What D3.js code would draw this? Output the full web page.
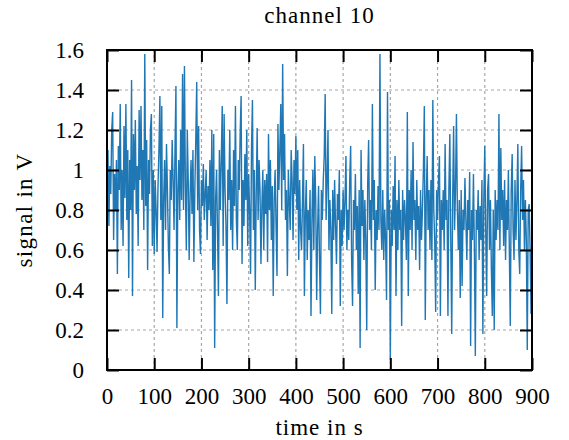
<!DOCTYPE html>
<html>
<head>
<meta charset="utf-8">
<script src="https://cdn.jsdelivr.net/npm/d3@7"></script>
<style>
	body { margin: 0; background: #fff; }
	svg text { font-family: "Liberation Serif", "Times New Roman", "DejaVu Serif", serif; fill: #000; }
</style>
</head>
<body>
<div id="chart"></div>
<script>
// signal samples, spaced evenly from 0 to 900 s
const signal = [
	0.85, 1.1, 0.72, 1.02, 0.88, 1.2, 1.29, 0.65, 0.98, 0.8,
	1.05, 0.48, 1.12, 0.9, 1.33, 0.7, 1.0, 0.62, 1.22, 0.86,
	1.33, 0.75, 1.1, 0.46, 1.05, 0.8, 1.45, 0.37, 1.18, 0.9,
	1.25, 0.78, 1.02, 0.62, 1.3, 0.95, 1.32, 0.85, 1.1, 0.7,
	1.58, 0.82, 1.15, 0.5, 1.05, 0.88, 1.2, 1.28, 0.62, 1.0,
	0.58, 0.95, 0.8, 0.59, 0.92, 1.1, 1.37, 0.75, 1.32, 0.26,
	0.85, 1.05, 0.7, 1.13, 0.9, 0.62, 0.48, 1.0, 0.85, 1.15,
	0.95, 0.7, 1.1, 1.42, 0.21, 0.9, 1.05, 0.75, 1.2, 0.85,
	1.48, 0.8, 1.52, 0.92, 0.6, 1.2, 0.95, 0.55, 0.88, 1.05,
	0.78, 1.1, 0.54, 0.9, 1.15, 1.44, 0.8, 1.22, 0.7, 0.58,
	0.95, 0.82, 1.03, 0.75, 0.88, 1.0, 0.65, 0.92, 0.8, 1.05,
	0.72, 1.2, 0.5, 1.18, 0.11, 0.85, 1.0, 0.7, 0.37, 1.1,
	0.8, 1.05, 1.32, 0.62, 1.28, 0.9, 0.72, 0.33, 1.0, 0.85,
	1.2, 0.7, 0.95, 0.6, 1.1, 0.82, 1.32, 0.75, 0.6, 1.05,
	0.9, 1.18, 1.37, 0.53, 0.95, 0.72, 1.08, 0.85, 1.2, 0.62,
	0.98, 0.8, 0.48, 1.1, 1.35, 0.7, 1.0, 0.4, 0.88, 1.21,
	0.75, 1.05, 0.9, 0.53, 0.82, 1.0, 0.6, 0.95, 0.78, 0.98,
	0.54, 1.18, 0.8, 1.05, 0.65, 0.92, 0.37, 0.85, 1.0, 0.72,
	0.47, 1.23, 0.9, 1.1, 1.33, 0.8, 1.53, 0.95, 1.18, 0.75,
	0.9, 0.47, 1.0, 0.85, 0.7, 1.1, 0.95, 0.65, 1.05, 0.88,
	1.17, 0.8, 1.1, 0.55, 0.95, 0.7, 0.6, 0.85, 1.13, 0.37,
	0.78, 0.95, 0.55, 0.8, 0.65, 0.9, 0.27, 0.75, 1.0, 0.6,
	1.07, 0.85, 0.35, 0.7, 0.92, 0.55, 0.28, 0.9, 0.75, 0.95,
	1.07, 1.38, 0.75, 0.95, 1.2, 0.6, 0.85, 0.7, 0.28, 0.9,
	0.65, 0.95, 0.72, 0.53, 0.88, 0.75, 1.0, 0.32, 0.8, 0.62,
	0.9, 0.7, 0.85, 1.07, 0.6, 0.8, 0.65, 0.95, 1.12, 0.55,
	0.32, 0.85, 0.7, 0.98, 0.6, 0.82, 0.38, 0.9, 0.11, 1.1,
	0.72, 0.9, 0.55, 0.85, 0.65, 0.2, 0.92, 1.15, 0.7, 0.85,
	0.6, 1.33, 0.75, 0.95, 0.4, 0.8, 0.65, 0.92, 0.7, 1.58,
	0.75, 0.6, 0.9, 0.55, 0.8, 0.65, 0.35, 1.39, 0.7, 0.85,
	0.05, 0.8, 0.62, 0.92, 0.7, 1.07, 0.37, 0.85, 0.6, 0.95,
	0.7, 0.8, 0.22, 0.9, 0.65, 0.85, 0.75, 0.55, 1.29, 0.37,
	0.9, 0.7, 1.0, 0.6, 1.14, 0.75, 0.85, 0.55, 0.95, 0.7,
	0.82, 0.5, 0.9, 0.65, 0.8, 1.0, 1.32, 0.25, 0.85, 1.07,
	0.7, 0.9, 0.6, 0.95, 0.55, 1.35, 0.8, 0.65, 0.29, 0.9,
	0.75, 0.95, 1.07, 0.27, 0.85, 0.7, 0.9, 0.6, 1.13, 0.75,
	0.85, 0.27, 0.9, 1.18, 0.65, 0.18, 0.85, 1.22, 0.7, 0.9,
	1.28, 0.8, 0.6, 0.85, 0.36, 0.9, 0.42, 0.8, 0.7, 0.96,
	0.75, 0.55, 0.85, 0.7, 0.99, 0.12, 0.8, 0.65, 0.98, 0.6,
	0.07, 0.8, 0.7, 0.9, 0.55, 0.82, 0.65, 0.95, 0.18, 0.85,
	1.12, 0.7, 0.37, 0.9, 0.98, 0.6, 0.85, 0.5, 0.27, 0.8,
	0.2, 0.9, 0.65, 0.85, 0.7, 1.28, 0.6, 1.11, 0.75, 0.9,
	0.62, 0.95, 0.55, 0.85, 0.7, 1.0, 0.6, 0.22, 0.9, 1.08,
	0.7, 0.55, 0.95, 0.65, 0.85, 1.13, 0.6, 0.48, 0.9, 1.12,
	0.75, 0.95, 0.6, 0.85, 0.65, 0.1, 0.8, 0.83, 0.6, 0.28,
	0.8
]
const tEnd = 900
const xTicks = [0, 100, 200, 300, 400, 500, 600, 700, 800, 900]
const yTicks = [0, 0.2, 0.4, 0.6, 0.8, 1, 1.2, 1.4, 1.6]
const title = 'channel 10'
const xLabel = 'time in s'
const yLabel = 'signal in V'

const width = 569
const height = 440
const margin = { top: 50, right: 37, bottom: 70, left: 107 }
const tickLen = 12
const serif = '"Liberation Serif", "Times New Roman", "DejaVu Serif", serif'

const svg = d3.select('#chart')
	.append('svg')
	.attr('width', width)
	.attr('height', height)

const x = d3.scaleLinear()
	.domain([0, tEnd])
	.range([margin.left, width - margin.right])

const y = d3.scaleLinear()
	.domain([0, 1.6])
	.range([height - margin.bottom, margin.top])

const step = tEnd / (signal.length - 1)
const points = signal.map((v, i) => [i * step, v])

// dashed grid
const grid = svg.append('g').attr('class', 'grid')
grid.selectAll('line.gx')
	.data(xTicks.slice(1, -1))
	.join('line')
	.attr('class', 'gx')
	.attr('x1', d => x(d)).attr('x2', d => x(d))
	.attr('y1', y(0)).attr('y2', y(1.6))
grid.selectAll('line.gy')
	.data(yTicks.slice(1, -1))
	.join('line')
	.attr('class', 'gy')
	.attr('x1', x(0)).attr('x2', x(tEnd))
	.attr('y1', d => y(d)).attr('y2', d => y(d))
grid.selectAll('line')
	.attr('stroke', '#a8a8a8')
	.attr('stroke-width', 1.2)
	.attr('stroke-dasharray', '3,3')

// signal line
svg.append('path')
	.datum(points)
	.attr('fill', 'none')
	.attr('stroke', '#1f77b4')
	.attr('stroke-width', 1.4)
	.attr('d', d3.line().x(d => x(d[0])).y(d => y(d[1])))

// axes, ticks point inward and are mirrored
const axisBottom = d3.axisBottom(x).tickValues(xTicks).tickSize(-tickLen).tickPadding(tickLen + 10)
const axisTop = d3.axisTop(x).tickValues(xTicks).tickSize(-tickLen).tickFormat('')
const axisLeft = d3.axisLeft(y).tickValues(yTicks).tickSize(-tickLen).tickPadding(tickLen + 11).tickFormat(d3.format('~g'))
const axisRight = d3.axisRight(y).tickValues(yTicks).tickSize(-tickLen).tickFormat('')

const gb = svg.append('g').attr('transform', `translate(0,${y(0)})`).call(axisBottom)
const gt = svg.append('g').attr('transform', `translate(0,${y(1.6)})`).call(axisTop)
const gl = svg.append('g').attr('transform', `translate(${x(0)},0)`).call(axisLeft)
const gr = svg.append('g').attr('transform', `translate(${x(tEnd)},0)`).call(axisRight)

;[gb, gt, gl, gr].forEach(g => {
	g.attr('font-family', serif).attr('font-size', 23)
	g.select('.domain').remove()
	g.selectAll('.tick line').attr('stroke', '#000').attr('stroke-width', 2)
	g.selectAll('.tick text').attr('fill', '#000')
})
gb.selectAll('.tick text').attr('dy', '0.5em')
gl.selectAll('.tick text').attr('dy', '0.33em')

// frame
svg.append('rect')
	.attr('x', x(0))
	.attr('y', y(1.6))
	.attr('width', x(tEnd) - x(0))
	.attr('height', y(0) - y(1.6))
	.attr('fill', 'none')
	.attr('stroke', '#000')
	.attr('stroke-width', 2)

// labels
const label = (txt, spacing) => svg.append('text')
	.attr('text-anchor', 'middle')
	.attr('font-family', serif)
	.attr('font-size', 23)
	.style('letter-spacing', spacing)
	.text(txt)

label(title, '1px')
	.attr('x', (x(0) + x(tEnd)) / 2)
	.attr('y', 23)

label(xLabel, '1px')
	.attr('x', (x(0) + x(tEnd)) / 2)
	.attr('y', 435)

label(yLabel, '1.3px')
	.attr('transform', `translate(32,${(y(0) + y(1.6)) / 2}) rotate(-90)`)
</script>
</body>
</html>
